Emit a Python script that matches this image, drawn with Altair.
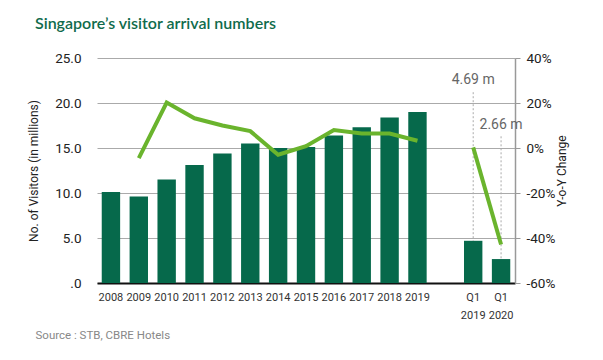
import altair as alt
import pandas as pd

categories = ["2008", "2009", "2010", "2011", "2012", "2013", "2014", "2015",
              "2016", "2017", "2018", "2019", " ", "Q1|2019", "Q1|2020"]
visitors = [10.1, 9.6, 11.5, 13.1, 14.4, 15.5, 15.0, 15.1, 16.4, 17.3, 18.4, 19.0,
            None, 4.69, 2.66]
yoy = [None, -4.5, 20.2, 13.2, 10.0, 7.5, -3.0, 0.8, 8.0, 6.4, 6.4, 3.2,
       None, 0.3, -42.9]
segment = ["a"] * 12 + [None, "b", "b"]
annot_cat = ["Q1|2019", "Q1|2020"]
annot_val = [4.69, 2.66]
annot_text = ["4.69 m", "2.66 m"]
annot_top = [21.2, 16.3]
annot_label_y = [22.6, 17.6]

FONT = "Roboto"
df = pd.DataFrame({"cat": categories, "visitors": visitors, "yoy": yoy, "seg": segment})
ann = pd.DataFrame({"cat": annot_cat, "val": annot_val, "text": annot_text,
                    "top": annot_top, "ly": annot_label_y})

xenc = alt.X("cat:N", sort=categories,
             scale=alt.Scale(domain=categories, paddingInner=0.34, paddingOuter=0.17),
             axis=alt.Axis(title="Source : STB, CBRE Hotels", titleAnchor="start",
                           titleAlign="left", titleX=-62, titleY=46, titleFontSize=11.5,
                           titleFont=FONT, titleFontWeight="normal", titleColor="#888888",
                           labelExpr="split(datum.label, '|')", labelAngle=0,
                           labelFont=FONT, labelFontSize=11, labelColor="#333333",
                           labelLineHeight=18, labelPadding=8,
                           ticks=False, domainColor="#111111", domainWidth=2))

yscale = alt.Scale(domain=[0, 25])
bars = alt.Chart(df).mark_bar(color="#06694b").encode(
    x=xenc,
    y=alt.Y("visitors:Q", scale=yscale,
            axis=alt.Axis(title="No. of Visitors (in millions)", values=[0, 5, 10, 15, 20, 25],
                          labelExpr="datum.value == 0 ? '.0' : format(datum.value, '.1f')",
                          labelFont=FONT, labelFontSize=13.5, labelColor="#222222",
                          labelPadding=16, domain=False, ticks=False,
                          gridColor="#aaaaaa", gridWidth=1,
                          titleFont=FONT, titleFontSize=12, titleFontWeight="normal",
                          titleColor="#222222", titlePadding=14)),
)

rules = alt.Chart(ann).mark_rule(color="#aaaaaa", strokeDash=[2, 2], strokeWidth=1).encode(
    x=alt.X("cat:N", sort=categories), y=alt.Y("top:Q", scale=yscale), y2="val:Q")

labels = alt.Chart(ann).mark_text(font=FONT, fontSize=14, color="#666666").encode(
    x=alt.X("cat:N", sort=categories), y=alt.Y("ly:Q", scale=yscale), text="text:N")

left = alt.layer(bars, rules, labels)

line = alt.Chart(df).mark_line(color="#6ab42d", strokeWidth=4).encode(
    x=alt.X("cat:N", sort=categories),
    y=alt.Y("yoy:Q", scale=alt.Scale(domain=[-60, 40]),
            axis=alt.Axis(orient="right", title="Y-o-Y Change", values=[-60, -40, -20, 0, 20, 40],
                          labelExpr="datum.value + '%'", grid=False,
                          labelFont=FONT, labelFontSize=13.5, labelColor="#222222",
                          domainColor="#999999", domainWidth=1.5,
                          tickColor="#999999", tickSize=5, labelPadding=6,
                          titleFont=FONT, titleFontSize=12, titleFontWeight="normal",
                          titleColor="#222222", titlePadding=14, titleAngle=270)),
    detail="seg:N",
)

chart = alt.layer(left, line).resolve_scale(y="independent").properties(
    width=418, height=225,
    autosize=alt.AutoSizeParams(type="none"),
    padding={"left": 89, "top": 50, "right": 80, "bottom": 69},
    title=alt.TitleParams("Singapore’s visitor arrival numbers", anchor="start", frame="group",
                          dx=-62, offset=19, font="Lato", fontSize=16, fontWeight=600,
                          color="#0f6b4c"),
).configure_view(stroke=None)

chart.save("out.html", embed_options={"renderer": "svg", "actions": False})
